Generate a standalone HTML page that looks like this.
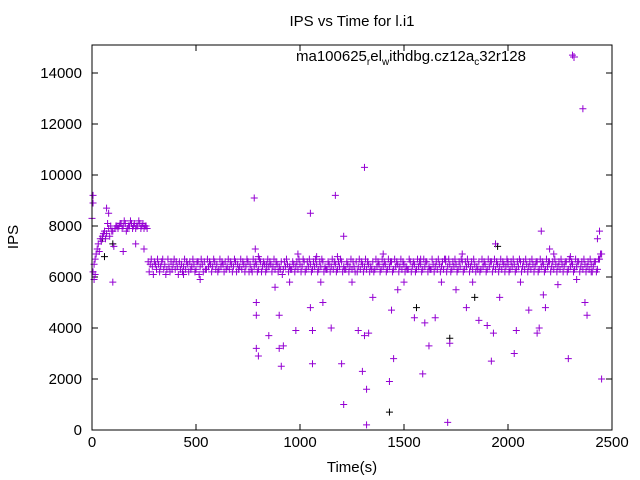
<!DOCTYPE html>
<html><head><meta charset="utf-8"><style>
body{margin:0;background:#fff}
svg{display:block;font-family:"Liberation Sans",sans-serif}
</style></head><body>
<svg id="chart" width="640" height="480" viewBox="0 0 640 480" xmlns="http://www.w3.org/2000/svg">
<rect width="640" height="480" fill="#fff"/>
<text x="352" y="26" font-size="15" text-anchor="middle">IPS vs Time for l.i1</text>
<text x="18" y="237" font-size="15" text-anchor="middle" transform="rotate(-90 18 237)">IPS</text>
<text x="352" y="472" font-size="15" text-anchor="middle">Time(s)</text>
<g id="axes"></g>
<g id="marks"></g>
<text x="296" y="61" font-size="15">ma100625<tspan font-size="10" dy="4">r</tspan><tspan dy="-4">el</tspan><tspan font-size="10" dy="4">w</tspan><tspan dy="-4">ithdbg.cz12a</tspan><tspan font-size="10" dy="4">c</tspan><tspan dy="-4">32r128</tspan></text>
<path d="M570 57h8M574 53v8" stroke="#9400d3" stroke-width="1"/>
<rect x="92" y="45" width="520" height="385" fill="none" stroke="#000" stroke-width="1"/>
</svg>
<script>
const xTicks=[0,500,1000,1500,2000,2500];
const yTicks=[0,2000,4000,6000,8000,10000,12000,14000];
const earlyT=[0,10,20,30,40,50,60,70,80,90,100,110,120,130,140,150,160,170,180,190,200,210,220,230,240,250,260];
const earlyV=[8300,6500,6900,7300,7500,7600,7800,7700,7900,8000,7800,7900,8000,8000,8100,8000,8100,7900,8000,8100,8000,7900,8000,8100,8000,7900,8000];
const early2T=[5,15,25,35,45,55,65,75,85,95,105,115,125,135,145,155,165,175,185,195,205,215,225,235,245,255,265];
const early2V=[6200,6700,7100,7000,7400,7700,7500,8100,7600,7800,7200,8000,7900,8100,7900,8200,7800,8000,8200,7900,8100,8000,8200,7900,8100,8000,7900];
const bandStart=270;
const bandV=[6600,6500,6400,6600,6300,6500,6400,6700,6500,6300,
6400,6600,6500,6300,6400,6600,6500,6400,6300,6500,
6600,6400,6500,6300,6600,6400,6500,6600,6300,6400,
6500,6400,6600,6500,6300,6400,6500,6600,6400,6300,
6500,6400,6600,6500,6400,6300,6500,6400,6600,6500,
6200,6400,6500,6300,6600,6400,6500,6300,6400,6500,
6400,6300,6500,6400,6600,6300,6400,6500,6400,6300,
6500,6400,6300,6500,6400,6600,6300,6400,6500,6300,
6400,6500,6300,6400,6600,6400,6300,6500,6400,6300,
6500,6300,6400,6600,6400,6300,6500,6400,6300,6400,
6600,6400,6300,6500,6400,6300,6500,6400,6600,6300,
6400,6500,6300,6400,6500,6300,6400,6600,6300,6400,
6500,6400,6300,6500,6400,6300,6600,6400,6500,6300,
6400,6500,6300,6400,6600,6400,6300,6500,6400,6300,
6500,6400,6300,6600,6400,6500,6300,6400,6500,6300,
6400,6600,6300,6400,6500,6400,6300,6500,6400,6600,
6300,6400,6500,6300,6400,6600,6400,6300,6500,6400,
6300,6500,6400,6600,6300,6400,6500,6300,6400,6600,
6400,6300,6500,6400,6300,6500,6400,6600,6300,6400,
6500,6300,6400,6600,6400,6300,6500,6400,6300,6500,
6400,6600,6300,6400,6500,6300,6400,6600,6400,6300,
6500,6400,6300,6500,6400,6600,6300,6700];
const band2V=[6200,6700,6100,6500,6700,6200,6600,6300,6100,6700,
6200,6300,6700,6600,6100,6300,6200,6700,6600,6200,
6300,6700,6200,6600,6100,6700,6200,6300,6700,6600,
6200,6700,6300,6200,6700,6600,6200,6300,6700,6600,
6200,6700,6200,6300,6700,6600,6200,6700,6200,6300,
6700,6600,6200,6700,6200,6600,6200,6700,6600,6200,
6700,6600,6200,6300,6100,6600,6700,6200,6300,6600,
6200,6600,6700,6200,6700,6200,6600,6700,6200,6600,
6700,6200,6600,6700,6200,6300,6600,6200,6700,6600,
6200,6600,6700,6200,6300,6600,6200,6700,6600,6200,
6200,6700,6600,6200,6700,6600,6200,6300,6200,6700,
6600,6200,6700,6600,6200,6700,6600,6200,6700,6600,
6200,6700,6600,6200,6300,6700,6200,6600,6200,6700,
6600,6200,6700,6600,6200,6300,6700,6200,6600,6700,
6200,6600,6700,6200,6700,6200,6600,6700,6200,6600,
6700,6200,6600,6700,6200,6600,6700,6200,6300,6200,
6700,6600,6200,6700,6600,6200,6700,6600,6200,6700,
6600,6200,6700,6200,6600,6700,6200,6600,6700,6200,
6600,6700,6200,6600,6700,6200,6600,6200,6700,6600,
6200,6700,6600,6200,6600,6700,6200,6600,6700,6200,
6600,6200,6700,6600,6200,6700,6600,6200,6600,6700,
6200,6600,6700,6200,6600,6200,6700,6900];
const outT=[5,5,10,15,70,80,100,150,210,250,440,520,780,785,790,790,790,800,800,840,850,880,900,900,910,920,950,980,990,1050,1050,1060,1060,1080,1100,1110,1150,1170,1180,1200,1210,1210,1250,1280,1300,1310,1310,1320,1320,1330,1350,1400,1430,1440,1450,1470,1500,1550,1580,1590,1600,1620,1650,1680,1700,1710,1720,1750,1780,1800,1830,1860,1900,1920,1930,1940,1960,2000,2030,2040,2060,2100,2140,2150,2160,2170,2180,2200,2220,2240,2290,2300,2310,2330,2360,2370,2380,2400,2430,2440,2450,2450];
const outV=[9200,8900,5900,6100,8700,8500,5800,7000,7300,7100,6100,5900,9100,7100,5000,4500,3200,2900,6800,6500,3700,5600,4500,3200,2500,3300,5800,3900,6900,8500,4800,3900,2600,6800,5800,5000,4000,9200,6800,2600,7600,1000,5800,3900,2300,10300,3700,1600,200,3800,5200,6900,1900,4700,2800,5500,5800,4400,6700,2200,4200,3300,4400,5800,6700,300,3400,5500,6900,4800,5800,4300,4100,2700,3800,7300,5200,6500,3000,3900,5800,4700,3800,4000,7800,5300,4800,7100,6900,5700,2800,6800,14700,5900,12600,5000,4500,6200,7500,7800,2000,6900];
const blackT=[50,100,1430,1560,1840,1950,1720,60];
const blackV=[7500,7300,700,4800,5200,7200,3600,6800];

const NS="http://www.w3.org/2000/svg";
const X=v=>92+v/2500*520;
const Y=v=>430-v/14000*357;
const axes=document.getElementById('axes');
const marks=document.getElementById('marks');
function mk(tag,attrs,parent){const e=document.createElementNS(NS,tag);for(const k in attrs)e.setAttribute(k,attrs[k]);parent.appendChild(e);return e;}
xTicks.forEach(t=>{
  const l=mk('path',{d:`M${X(t)} 430v-6M${X(t)} 45v6`,stroke:'#000'},axes);
  
  
  const tx=mk('text',{x:X(t),y:447,'font-size':15,'text-anchor':'middle'},axes);
  tx.textContent=t;
  
  
});
yTicks.forEach(t=>{
  const l=mk('path',{d:`M92 ${Y(t)}h6M612 ${Y(t)}h-6`,stroke:'#000'},axes);
  
  
  const tx=mk('text',{x:82,y:Y(t)+5,'font-size':15,'text-anchor':'end'},axes);
  tx.textContent=t;
  
  
});
function plus(t,v,color,name){
  const p=mk('path',{d:`M${X(t)-3.5} ${Y(v)}h7M${X(t)} ${Y(v)-3.5}v7`,stroke:color,'stroke-width':1},marks);
  
  
}
blackT.forEach((t,i)=>plus(t,blackV[i],'#000','point-black'));
earlyT.forEach((t,i)=>plus(t,earlyV[i],'#9400d3','point-early'));
early2T.forEach((t,i)=>plus(t,early2V[i],'#9400d3','point-early'));
bandV.forEach((v,i)=>plus(bandStart+i*10,v,'#9400d3','point-band'));
band2V.forEach((v,i)=>plus(bandStart+5+i*10,v,'#9400d3','point-band'));
outT.forEach((t,i)=>plus(t,outV[i],'#9400d3','point-outlier'));
</script>
</body></html>
